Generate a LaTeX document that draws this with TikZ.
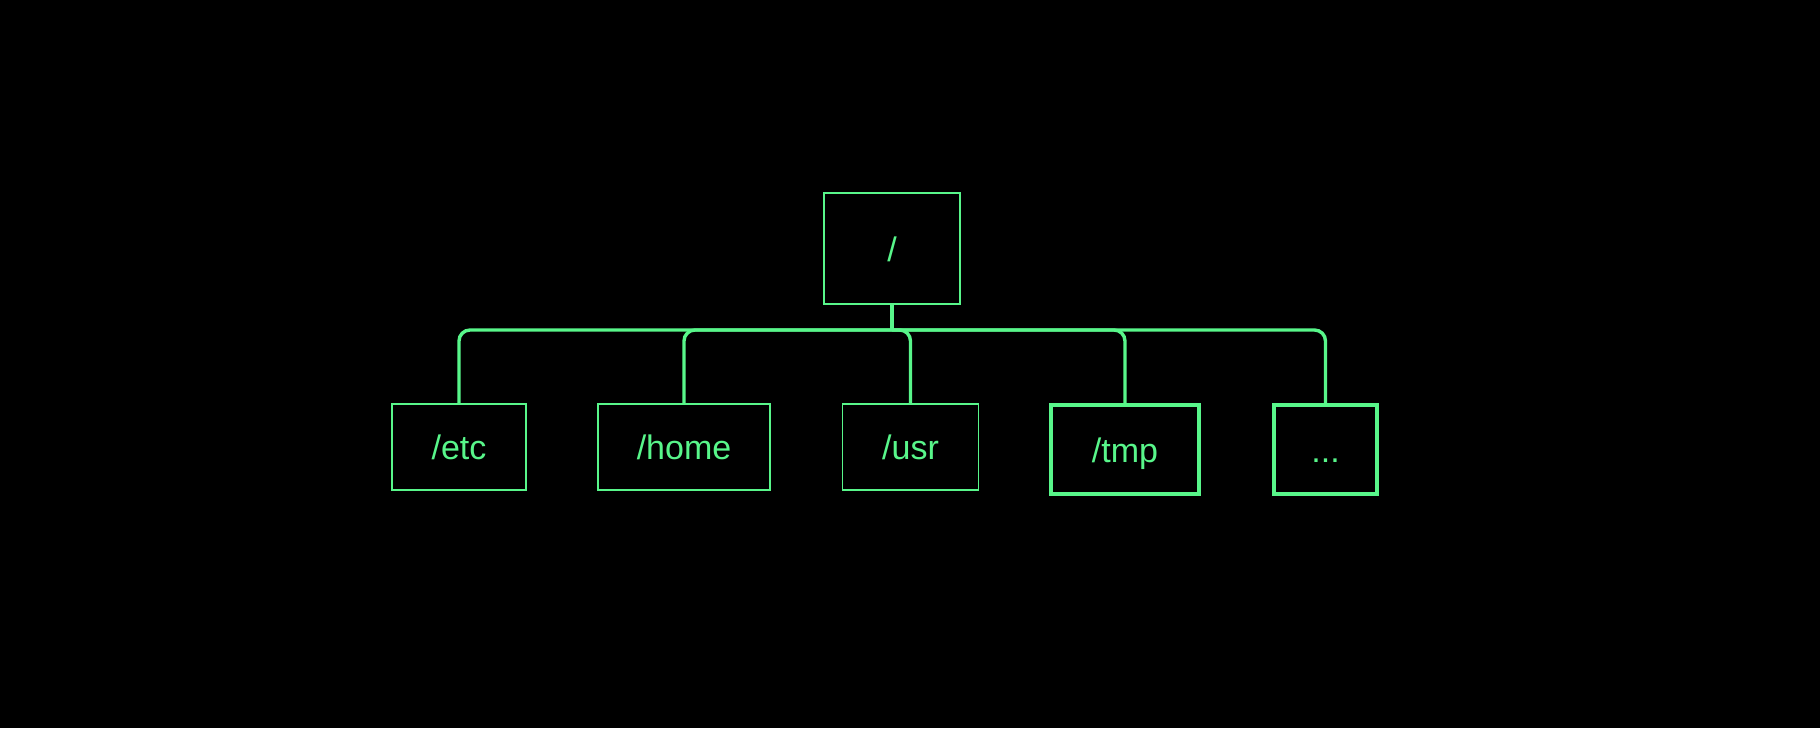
\documentclass[tikz,border=0pt]{standalone}
\usepackage{fontspec}
\setmainfont{Liberation Sans}
\definecolor{tgreen}{RGB}{88,246,138}
\begin{document}
\begin{tikzpicture}[x=1pt,y=-1pt,
  dirbox/.style={draw=tgreen, line width=1.8pt, text=tgreen, inner sep=0pt, minimum height=86pt,
    text height=28pt, text depth=3pt,
    font=\fontsize{34}{40}\selectfont},
  boldbox/.style={dirbox, line width=3.2pt, minimum height=89pt},
  link/.style={draw=tgreen, line width=3.4pt, rounded corners=11pt}]
\fill[black] (0,0) rectangle (1820,728);
\useasboundingbox (0,0) rectangle (1820,728);
\node[dirbox, minimum width=136pt, minimum height=111pt] (root) at (892,248.5) {/};
\node[dirbox, minimum width=134pt] (etc) at (459,447) {/etc};
\node[dirbox, minimum width=172pt] (home) at (684,447) {/home};
\node[dirbox, minimum width=136pt] (usr) at (910.5,447) {/usr};
\node[boldbox, minimum width=148pt] (tmp) at (1125,449.5) {/tmp};
\node[boldbox, minimum width=103pt] (more) at (1325.5,449.5) {...};
\coordinate (j) at (892,330);
\draw[link] (root.south) -- (j);
\foreach \c in {etc,home,usr,tmp,more}{
  \draw[link] (j) -| (\c.north);
}
\end{tikzpicture}
\end{document}
